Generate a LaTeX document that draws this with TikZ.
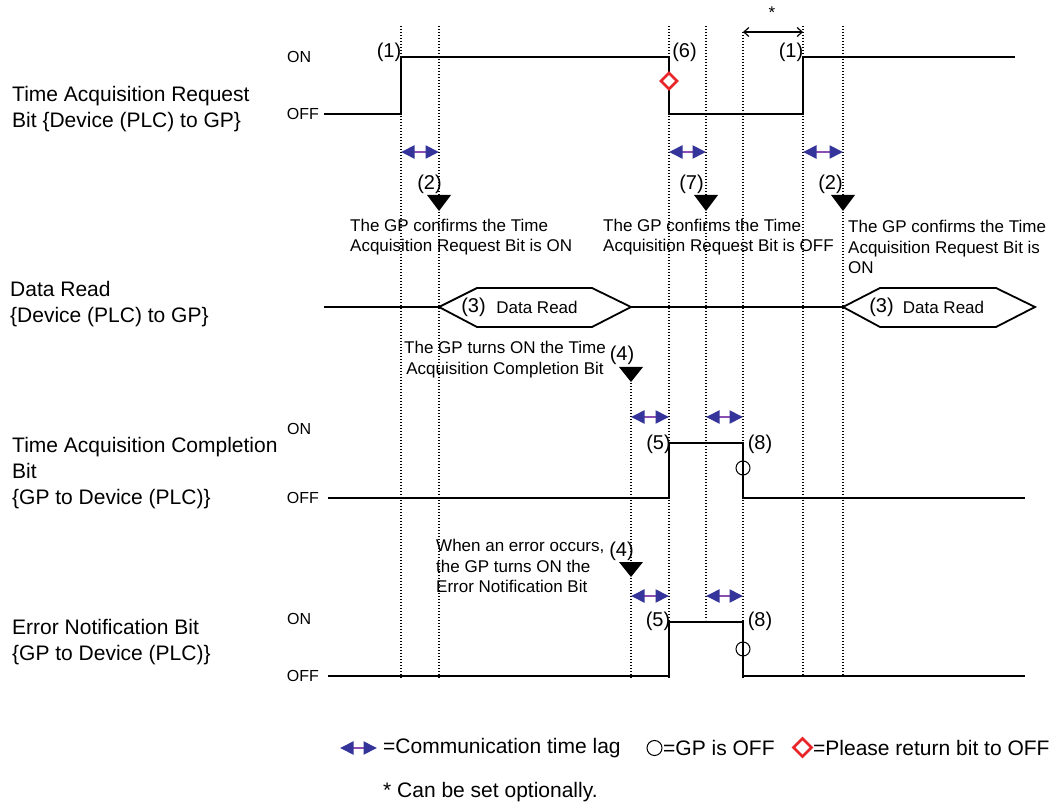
\documentclass[tikz,border=0pt]{standalone}
\usepackage{fontspec}
\setmainfont{Liberation Sans}
\usetikzlibrary{arrows.meta}
\definecolor{lagblue}{HTML}{34349A}
\definecolor{lagpurple}{HTML}{8A4FB0}
\definecolor{warnred}{HTML}{E8262A}
\begin{document}
\begin{tikzpicture}[x=1pt,y=-1pt,
  sig/.style={line width=1.8pt, line join=miter},
  guide/.style={line width=1.1pt, dash pattern=on 1.4pt off 1.6pt},
  lag/.style={line width=2pt, draw=lagpurple,
    {Triangle[length=13.5pt,width=13pt,color=lagblue,fill=lagblue]}-{Triangle[length=13.5pt,width=13pt,color=lagblue,fill=lagblue]}},
  tri/.style={fill=black},
  offmark/.style={line width=1pt},
  warn/.style={draw=warnred, line width=2.5pt, fill=white, line join=miter},
  lab/.style={font=\fontsize{21}{26}\selectfont, align=left, anchor=west, inner sep=0pt},
  note/.style={font=\fontsize{17}{20.5}\selectfont, align=left, anchor=west, inner sep=0pt},
  lvl/.style={font=\fontsize{16}{19}\selectfont, inner sep=0pt},
  num/.style={font=\fontsize{20}{24}\selectfont, inner sep=0pt},
  dr/.style={font=\fontsize{17}{20}\selectfont, inner sep=0pt}
]
\useasboundingbox[fill=white] (0,0) rectangle (1058,802);

% ---------- guide (dotted) lines ----------
\draw[guide] (401,26) -- (401,678);
\draw[guide] (439,26) -- (439,678);
\draw[guide] (631,383) -- (631,678);
\draw[guide] (669,26) -- (669,678);
\draw[guide] (706,26) -- (706,620);
\draw[guide] (743,32) -- (743,678);
\draw[guide] (803,26) -- (803,675);
\draw[guide] (843,26) -- (843,675);

% ---------- left labels ----------
\node[lab] (l1) at (12,109) {Time Acquisition Request\\Bit \{Device (PLC) to GP\}};
\node[lab] (l2) at (10,304) {Data Read\\\{Device (PLC) to GP\}};
\node[lab] (l3) at (12,473.5) {Time Acquisition Completion\\Bit\\\{GP to Device (PLC)\}};
\node[lab] (l4) at (12,642.5) {Error Notification Bit\\\{GP to Device (PLC)\}};

% ---------- ON / OFF levels ----------
\node[lvl,anchor=west] (on1) at (287,57) {ON};
\node[lvl,anchor=east] (off1) at (319,114) {OFF};
\node[lvl,anchor=west] (on3) at (287,429) {ON};
\node[lvl,anchor=east] (off3) at (319,498) {OFF};
\node[lvl,anchor=west] (on4) at (287,619) {ON};
\node[lvl,anchor=east] (off4) at (319,676) {OFF};

% ---------- waveforms ----------
\draw[sig] (324,114) -- (401,114) -- (401,57) -- (669,57) -- (669,114) -- (803,114) -- (803,57) -- (1015,57);
\draw[sig] (324,307) -- (439,307);
\draw[sig] (439,307) -- (477,288) -- (592,288) -- (631,307) -- (592,327) -- (477,327) -- cycle;
\draw[sig] (631,307) -- (843,307);
\draw[sig] (843,307) -- (880,288) -- (996,288) -- (1035,307) -- (996,327) -- (880,327) -- cycle;
\draw[sig] (328,498) -- (669,498) -- (669,443) -- (743,443) -- (743,498) -- (1025,498);
\draw[sig] (328,676) -- (669,676) -- (669,622) -- (743,622) -- (743,676) -- (1025,676);

% ---------- optional interval ----------
\draw[line width=1.2pt, {Straight Barb[length=5pt,width=9pt]}-{Straight Barb[length=5pt,width=9pt]}] (743,32) -- (803,32);
\node[dr] (star) at (772,13) {*};

% ---------- step numbers ----------
\node[num] (n1a) at (389,52) {(1)};
\node[num] (n6) at (684.5,52) {(6)};
\node[num] (n1b) at (791,52) {(1)};
\node[num] (n2a) at (429.5,184) {(2)};
\node[num] (n7) at (691.5,184) {(7)};
\node[num] (n2b) at (830.5,184) {(2)};
\node[num] (n3a) at (473.5,307) {(3)};
\node[num] (n3b) at (881.5,307) {(3)};
\node[num] (n4a) at (622,355) {(4)};
\node[num] (n4b) at (621.5,551) {(4)};
\node[num] (n5a) at (658.5,444) {(5)};
\node[num] (n5b) at (658,621) {(5)};
\node[num] (n8a) at (760,444) {(8)};
\node[num] (n8b) at (760,621) {(8)};
\node[dr] (dra) at (537,307) {Data Read};
\node[dr] (drb) at (943.5,307) {Data Read};

% ---------- black triangles ----------
\fill[tri] (427,195) -- (451,195) -- (439,211) -- cycle;
\fill[tri] (694,195) -- (718,195) -- (706,211) -- cycle;
\fill[tri] (831,195) -- (855,195) -- (843,211) -- cycle;
\fill[tri] (619,367) -- (643,367) -- (631,382) -- cycle;
\fill[tri] (619,562) -- (643,562) -- (631,577) -- cycle;

% ---------- communication lags ----------
\draw[lag] (401,152) -- (439,152);
\draw[lag] (669,152) -- (706,152);
\draw[lag] (803,152) -- (843,152);
\draw[lag] (631,417) -- (669,417);
\draw[lag] (706,417) -- (743,417);
\draw[lag] (631,596) -- (669,596);
\draw[lag] (706,596) -- (743,596);

% ---------- markers ----------
\draw[warn] (669,73) -- (677,81) -- (669,89) -- (661,81) -- cycle;
\draw[offmark] (743,468) circle[radius=7pt];
\draw[offmark] (743,649) circle[radius=7pt];

% ---------- annotations ----------
\node[note] (a1) at (350,237) {The GP confirms the Time\\Acquisition Request Bit is ON};
\node[note] (a2) at (603,237) {The GP confirms the Time\\Acquisition Request Bit is OFF};
\node[note] (a3) at (848,247) {The GP confirms the Time\\Acquisition Request Bit is\\ON};
\node[note,align=center,anchor=center] (a4) at (505,359.5) {The GP turns ON the Time\\Acquisition Completion Bit};
\node[note] (a5) at (436,566) {When an error occurs,\\the GP turns ON the\\Error Notification Bit};

% ---------- legend ----------
\draw[lag] (340,748) -- (377,748);
\node[lab] (lg1) at (383,748) {=Communication time lag};
\draw[offmark] (654.5,748) circle[radius=7.5pt];
\node[lab] (lg2) at (663,748) {=GP is OFF};
\draw[warn] (802.5,738.5) -- (811.5,747.5) -- (802.5,756.5) -- (793.5,747.5) -- cycle;
\node[lab] (lg3) at (813,748) {=Please return bit to OFF};
\node[lab] (lg4) at (383,792) {* Can be set optionally.};
\end{tikzpicture}
\end{document}
